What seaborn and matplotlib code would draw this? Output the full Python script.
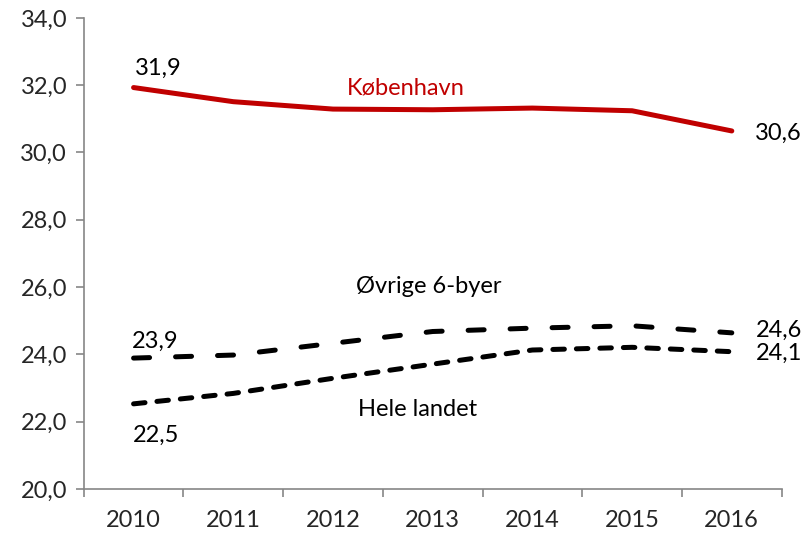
import numpy as np
import pandas as pd
import seaborn as sns
import matplotlib.pyplot as plt
from matplotlib.ticker import FuncFormatter, FixedLocator

# ---- data ----
years = ["2010", "2011", "2012", "2013", "2014", "2015", "2016"]
kobenhavn = [31.93, 31.51, 31.29, 31.27, 31.32, 31.24, 30.64]
ovrige = [23.89, 23.98, 24.33, 24.68, 24.78, 24.85, 24.64]
hele_landet = [22.53, 22.84, 23.29, 23.71, 24.13, 24.21, 24.08]

sns.set_style("white")
plt.rcParams['font.family'] = ['Lato', 'DejaVu Sans']

fig = plt.figure(figsize=(8.05, 5.39), dpi=100)
ax = fig.add_axes([0.104, 0.0928, 0.867, 0.874])

xpos = np.arange(len(years))
red = "#C00000"
lw = 3.6

sns.lineplot(x=xpos, y=kobenhavn, ax=ax, color=red, linewidth=lw,
             solid_capstyle='round', solid_joinstyle='round')
l2 = sns.lineplot(x=xpos, y=ovrige, ax=ax, color="black", linewidth=lw).lines[-1]
l2.set_dashes((3.2, 5.2))
l2.set_dash_capstyle('round')
l3 = sns.lineplot(x=xpos, y=hele_landet, ax=ax, color="black", linewidth=lw).lines[-1]
l3.set_dashes((2.3, 2.4))
l3.set_dash_capstyle('round')

fmt = lambda v: f"{v:.1f}".replace(".", ",")
fs = 17

def label(x, y, dx, dy, ha='center'):
    ax.annotate(fmt(y), xy=(x, y), xytext=(dx, dy), textcoords='offset pixels',
                ha=ha, va='baseline', fontsize=fs, color="black")

label(0, kobenhavn[0], 25, 13)
label(6, kobenhavn[-1], 23, -9, ha='left')
label(0, ovrige[0], 22, 10)
label(6, ovrige[-1], 24, -4, ha='left')
label(6, hele_landet[-1], 24, -8, ha='left')
label(0, hele_landet[0], 22, -38)

ax.text(2.735, 31.71, "København", color=red, fontsize=fs, ha='center', va='baseline')
ax.text(2.96, 25.83, "Øvrige 6-byer", color="black", fontsize=fs, ha='center', va='baseline')
ax.text(2.85, 22.17, "Hele landet", color="black", fontsize=fs, ha='center', va='baseline')

ax.set_xlim(-0.5, 6.5)
ax.set_ylim(20, 34)
ax.set_xticks(xpos)
ax.set_xticklabels(years)
ax.xaxis.set_minor_locator(FixedLocator(np.arange(-0.5, 7, 1)))
ax.set_yticks(np.arange(20, 35, 2))
ax.yaxis.set_major_formatter(FuncFormatter(lambda v, p: fmt(v)))

gray = "#868686"
ax.tick_params(axis='x', which='major', length=0, pad=15, labelsize=fs)
ax.tick_params(axis='x', which='minor', length=6, width=1.2, color=gray, direction='out', bottom=True)
ax.tick_params(axis='y', which='major', length=6, width=1.2, color=gray, direction='out', left=True, pad=6, labelsize=fs)

for s in ['top', 'right']:
    ax.spines[s].set_visible(False)
for s in ['left', 'bottom']:
    ax.spines[s].set_color(gray)
    ax.spines[s].set_linewidth(1.2)

plt.savefig("out.png", dpi=100)
